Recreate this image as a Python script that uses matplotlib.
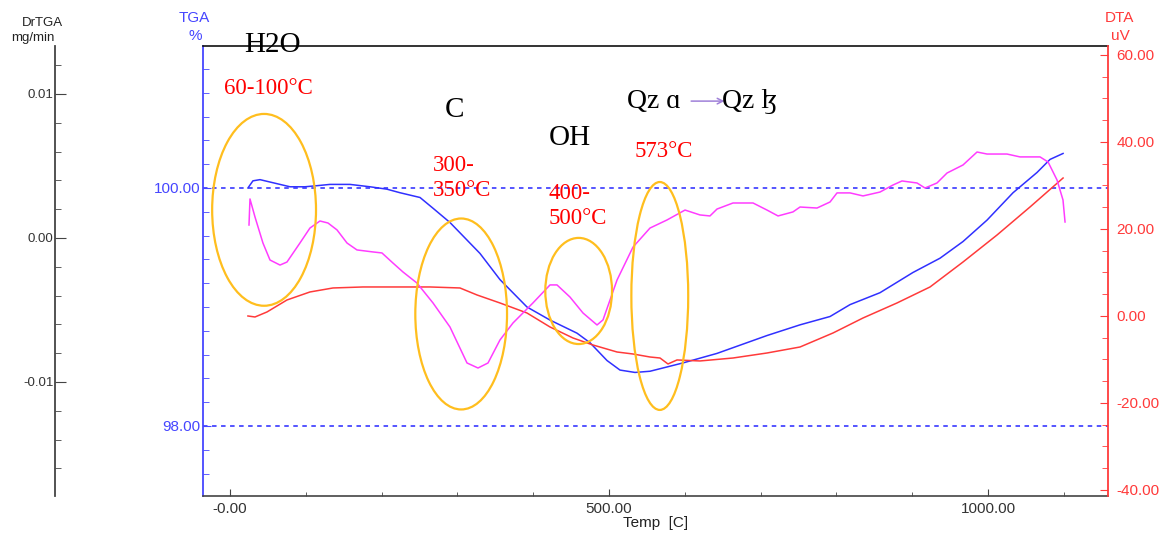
import matplotlib
matplotlib.use('Agg')
import matplotlib.pyplot as plt
from matplotlib.patches import Ellipse
from matplotlib.ticker import MultipleLocator, FixedLocator, FixedFormatter, FormatStrFormatter

plt.rcParams['font.family'] = ['Liberation Sans', 'DejaVu Sans']
SERIF = ['Liberation Serif', 'DejaVu Serif']

# TGA curve (%)
tga_temp = [23.7, 30.3, 39.6, 59.4, 79.2, 98.9, 116, 131.9, 158.3, 184.7, 207, 224.3, 250.7,
            267.8, 290.2, 310, 329.8, 356.2, 391.8, 422.2, 457.8, 474.9, 497.4, 514.5, 534.3,
            554.1, 597.6, 642.5, 708.4, 752, 791.6, 818, 857.5, 901, 936.7, 967, 998.7, 1033,
            1064.6, 1081.8, 1099]
tga_pct = [100.00, 100.06, 100.07, 100.04, 100.01, 100.01, 100.02, 100.03, 100.03, 100.01, 99.99,
           99.96, 99.92, 99.83, 99.71, 99.58, 99.45, 99.23, 99.00, 98.89, 98.78, 98.70, 98.55,
           98.47, 98.45, 98.46, 98.53, 98.61, 98.76, 98.85, 98.92, 99.02, 99.12, 99.29, 99.41,
           99.55, 99.73, 99.96, 100.13, 100.24, 100.29]

# DTA curve (uV)
dta_temp = [23.7, 33, 48.8, 75.2, 105.5, 135.9, 175.5, 224.3, 263.9, 303.4, 325.9, 356.2, 391.8,
            422.2, 452.5, 478.9, 510.6, 531.7, 554.1, 567.3, 577.8, 589.7, 620, 663.6, 708.4,
            752, 795.5, 835.1, 879.9, 923.5, 967, 1011.9, 1055.4, 1099]
dta_uv = [0.0, -0.23, 0.92, 3.68, 5.52, 6.44, 6.67, 6.67, 6.67, 6.44, 4.83, 2.99, 0.69, -2.53,
          -5.06, -6.67, -8.28, -8.74, -9.43, -9.66, -11.03, -10.11, -10.34, -9.66, -8.51, -7.13,
          -3.91, -0.46, 2.99, 6.67, 12.41, 18.62, 25.06, 31.72]

# DrTGA curve (mg/min)
drtga_temp = [25.1, 26.4, 33, 43.5, 52.8, 66, 75.2, 92.3, 105.5, 118.7, 129.3, 141.2, 154.4, 167.5,
              188.7, 200.5, 215, 228.2, 246.7, 267.8, 290.2, 312.7, 327.2, 340.4, 356.2, 373.4,
              399.7, 422.2, 431.4, 448.5, 465.7, 484.2, 492.1, 510.6, 531.7, 554.1, 576.5, 600.3,
              620, 633.2, 642.5, 663.6, 690, 708.4, 723, 742.7, 752, 774.4, 791.6, 800.8, 818,
              835.1, 857.5, 874.7, 886.5, 906.3, 916.9, 932.7, 945.9, 967, 985.5, 998.7, 1025,
              1042.2, 1068.6, 1079.2, 1091, 1098.9, 1101.6]
drtga_rate = [0.00090, 0.00271, 0.00146, -0.00035, -0.00153, -0.00188, -0.00167, -0.00035,
              0.00069, 0.00118, 0.00104, 0.00056, -0.00035, -0.00083, -0.00097, -0.00104,
              -0.00174, -0.00236, -0.00313, -0.00451, -0.00618, -0.00868, -0.00903, -0.00868,
              -0.00708, -0.00590, -0.00451, -0.00326, -0.00326, -0.00410, -0.00521, -0.00604,
              -0.00569, -0.00292, -0.00063, 0.00069, 0.00125, 0.00194, 0.00160, 0.00153,
              0.00201, 0.00243, 0.00243, 0.00194, 0.00153, 0.00181, 0.00215, 0.00208, 0.00250,
              0.00313, 0.00313, 0.00292, 0.00319, 0.00368, 0.00396, 0.00382, 0.00347, 0.00382,
              0.00451, 0.00507, 0.00597, 0.00583, 0.00583, 0.00563, 0.00563, 0.00528, 0.00403,
              0.00264, 0.00111]

x_ticks = [0, 500, 1000]
x_tick_labels = ['-0.00', '500.00', '1000.00']
tga_ticks = [98, 100]
drtga_ticks = [-0.01, 0.0, 0.01]
drtga_tick_labels = ['-0.01', '0.00', '0.01']

BLUE = '#4646ff'
RED = '#ff3a3a'
MAG = '#ff3cff'
ORANGE = '#ffbe1e'

fig = plt.figure(figsize=(11.74, 5.43), dpi=100)
ax = fig.add_axes([0.1729, 0.0866, 0.7709, 0.8287])
ax2 = ax.twinx()
ax3 = ax.twinx()

ax.set_xlim(-35.6, 1158.3)
ax.set_ylim(97.412, 101.193)
ax2.set_ylim(-41.38, 62.07)
ax3.set_ylim(-0.017917, 0.013333)

# reference lines
ax.axhline(100, color=BLUE, lw=1.3, ls=(0, (2.5, 2.5)))
ax.axhline(98, color=BLUE, lw=1.3, ls=(0, (2.5, 2.5)))

ax.plot(tga_temp, tga_pct, color='#3030ff', lw=1.1)
ax2.plot(dta_temp, dta_uv, color=RED, lw=1.1)
ax3.plot(drtga_temp, drtga_rate, color=MAG, lw=1.1)

# spines
for s in ['top', 'right', 'bottom', 'left']:
    ax2.spines[s].set_visible(False)
    ax3.spines[s].set_visible(False)
ax.spines['right'].set_visible(False)
ax.spines['top'].set_color('#111111')
ax.spines['top'].set_linewidth(1.2)
ax.spines['bottom'].set_color('#444444')
ax.spines['bottom'].set_linewidth(1.2)
ax.spines['left'].set_color(BLUE)
ax.spines['left'].set_linewidth(1.3)
ax2.spines['right'].set_visible(True)
ax2.spines['right'].set_color(RED)
ax2.spines['right'].set_linewidth(1.3)
ax3.spines['left'].set_visible(True)
ax3.spines['left'].set_position(('axes', -0.1635))
ax3.spines['left'].set_color('#444444')
ax3.spines['left'].set_linewidth(1.3)
ax3.yaxis.set_ticks_position('left')
ax3.yaxis.set_label_position('left')

# x axis
ax.xaxis.set_major_locator(FixedLocator(x_ticks))
ax.xaxis.set_major_formatter(FixedFormatter(x_tick_labels))
ax.xaxis.set_minor_locator(MultipleLocator(100))
ax.tick_params(axis='x', which='both', direction='in', color='#444444', labelsize=11,
               labelcolor='#333333', pad=4)
ax.tick_params(axis='x', which='major', length=5)
ax.tick_params(axis='x', which='minor', length=3)

# TGA axis
ax.yaxis.set_major_locator(FixedLocator(tga_ticks))
ax.yaxis.set_major_formatter(FormatStrFormatter('%.2f'))
ax.yaxis.set_minor_locator(MultipleLocator(0.2))
ax.tick_params(axis='y', which='both', direction='in', color=BLUE, labelcolor=BLUE,
               labelsize=11, pad=2)
ax.tick_params(axis='y', which='major', length=6)
ax.tick_params(axis='y', which='minor', length=4)

# DTA axis
ax2.yaxis.set_major_locator(MultipleLocator(20))
ax2.yaxis.set_major_formatter(FormatStrFormatter('%.2f'))
ax2.yaxis.set_minor_locator(MultipleLocator(5))
ax2.tick_params(axis='y', which='both', direction='in', color=RED, labelcolor=RED,
                labelsize=11, pad=6)
ax2.tick_params(axis='y', which='major', length=6)
ax2.tick_params(axis='y', which='minor', length=4)

# DrTGA axis
ax3.yaxis.set_major_locator(FixedLocator(drtga_ticks))
ax3.yaxis.set_major_formatter(FixedFormatter(drtga_tick_labels))
ax3.yaxis.set_minor_locator(MultipleLocator(0.002))
ax3.tick_params(axis='y', which='both', direction='in', color='#444444', labelcolor='#333333',
                labelsize=9.5, pad=1)
ax3.tick_params(axis='y', which='major', length=8)
ax3.tick_params(axis='y', which='minor', length=4)

# axis titles
W, H = 1174, 543
def ftext(x, y, s, **kw):
    fig.text(x / W, 1 - y / H, s, ha='center', va='center', **kw)

ftext(42, 23, 'DrTGA', fontsize=9.5, color='#222222')
ftext(33, 38, 'mg/min', fontsize=9.5, color='#222222')
ftext(194, 18, 'TGA', fontsize=11, color=BLUE)
ftext(195, 36, '%', fontsize=11, color=BLUE)
ftext(1119, 18, 'DTA', fontsize=11, color=RED)
ftext(1120, 36, 'uV', fontsize=11, color=RED)
ftext(656, 523, 'Temp  [C]', fontsize=11, color='#222222')

# annotation ellipses (temperature, DTA coordinates)
ellipses = [(45, 24.4, 137, 44.1), (305, 0.46, 121, 43.9), (460, 5.75, 88, 24.4), (567, 4.6, 75, 52.4)]
for cx, cy, w, h in ellipses:
    ax3.add_patch(Ellipse((cx, cy), w, h, transform=ax2.transData, fill=False,
                          edgecolor=ORANGE, lw=1.6, zorder=5))

def note(x, y, s, size, color):
    ax3.text(x, y, s, transform=ax2.transData, fontsize=size, color=color, family=SERIF,
             ha='left', va='center', clip_on=False, zorder=6, linespacing=1.25)

note(18.5, 62.3, 'H2O', 21, 'black')
note(-7.9, 52.2, '60-100°C', 16.5, 'red')
note(283.6, 47.4, 'C', 21, 'black')
note(267.8, 31.8, '300-\n350°C', 16.5, 'red')
note(420.8, 40.9, 'OH', 21, 'black')
note(420.8, 25.3, '400-\n500°C', 16.5, 'red')
note(534.3, 37.7, '573°C', 16.5, 'red')
note(523.7, 49.4, 'Qz ɑ', 20, 'black')
note(649.1, 49.4, 'Qz ɮ', 20, 'black')
ax3.annotate('', xy=(656, 49.4), xytext=(604.7, 49.4), xycoords=ax2.transData,
             textcoords=ax2.transData,
             arrowprops=dict(arrowstyle='->', color='#9f80d8', lw=1.1), annotation_clip=False)

fig.savefig('out.png', dpi=100)
